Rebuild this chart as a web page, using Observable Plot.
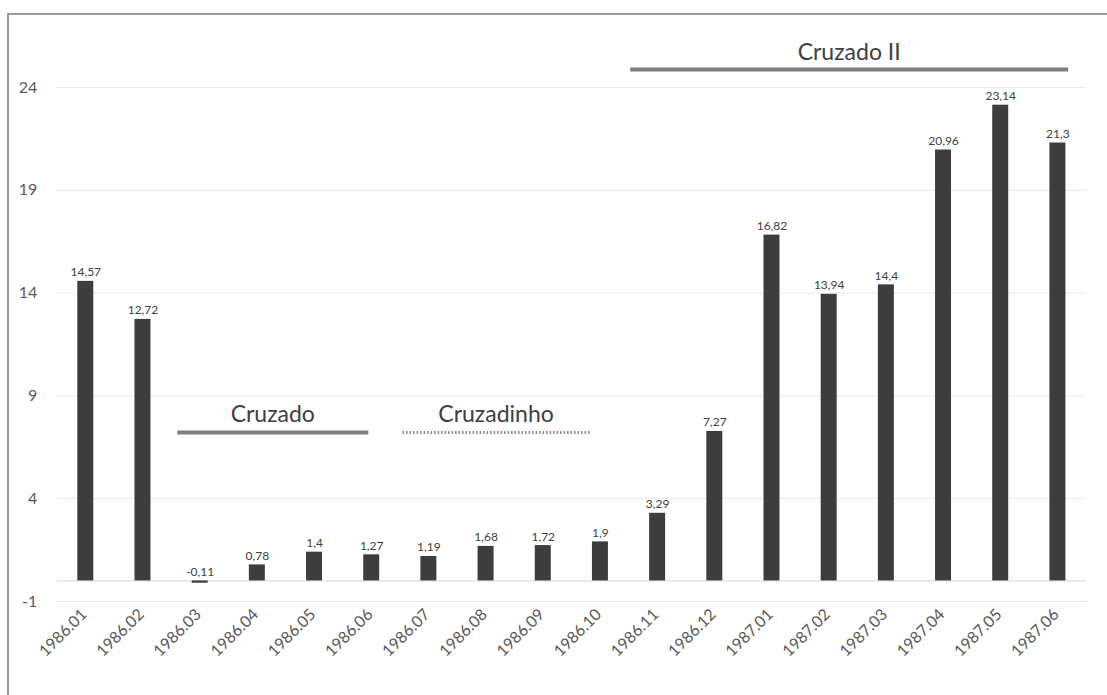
<!DOCTYPE html>
<html><head><meta charset="utf-8">
<script src="https://cdn.jsdelivr.net/npm/d3@7"></script>
<script src="https://cdn.jsdelivr.net/npm/@observablehq/plot@0.6"></script>
<style>
html,body{margin:0;padding:0;background:#fff;}
#wrap{position:relative;width:1107px;height:695px;overflow:hidden;}
#frame{position:absolute;left:7px;top:13px;width:1200px;height:800px;border-left:2px solid #9a9a9a;border-top:2px solid #9a9a9a;}
#chart{position:absolute;left:0;top:0;}
</style></head><body>
<div id="wrap"><div id="frame"></div><div id="chart"></div></div>
<script>
const months = ["1986.01","1986.02","1986.03","1986.04","1986.05","1986.06","1986.07","1986.08","1986.09","1986.10","1986.11","1986.12","1987.01","1987.02","1987.03","1987.04","1987.05","1987.06"];
const values = [14.57, 12.72, -0.11, 0.78, 1.4, 1.27, 1.19, 1.68, 1.72, 1.9, 3.29, 7.27, 16.82, 13.94, 14.4, 20.96, 23.14, 21.3];
const yTicks = [-1, 4, 9, 14, 19, 24];
// plan periods, positioned in month-index units
const periodNames = ["Cruzado", "Cruzadinho", "Cruzado II"];
const periodFrom = [1.6, 5.54, 9.52];
const periodTo = [4.94, 8.81, 17.18];
const periodLevel = [7.22, 7.22, 24.87];

const data = months.map((m, i) => ({i, month: m, value: values[i]}));
const periods = periodNames.map((name, k) => ({name, from: periodFrom[k], to: periodTo[k], level: periodLevel[k]}));
const fmt = v => String(v).replace(".", ",");

const chart = Plot.plot({
  width: 1107,
  height: 695,
  marginLeft: 56.7,
  marginRight: 21,
  marginTop: 87,
  marginBottom: 94,
  style: {fontFamily: "Lato, sans-serif", background: "transparent"},
  x: {domain: [-0.5, 17.5], axis: null},
  y: {domain: [-1, 24]},
  marks: [
    Plot.ruleY(yTicks, {stroke: "#e8e8e8", strokeWidth: 1}),
    Plot.ruleY([0], {stroke: "#d4d4d4", strokeWidth: 1}),
    Plot.rectY(data, {x1: d => d.i - 0.5, x2: d => d.i + 0.5, y: "value", fill: "#3d3d3d", insetLeft: 20.6, insetRight: 20.6}),
    Plot.text(data, {x: "i", y: d => Math.max(0, d.value), text: d => fmt(d.value), lineAnchor: "bottom", dy: -5, fontSize: 12, fill: "#404040"}),
    Plot.text(data, {x: "i", frameAnchor: "bottom", text: "month", rotate: -45, textAnchor: "end", dx: 2, dy: 14, fontSize: 16, fill: "#595959"}),
    Plot.link(periods.filter(p => p.name !== "Cruzadinho"), {x1: "from", x2: "to", y1: "level", y2: "level", stroke: "#7f7f7f", strokeWidth: 4}),
    Plot.link(periods.filter(p => p.name === "Cruzadinho"), {x1: "from", x2: "to", y1: "level", y2: "level", stroke: "#8a8a8a", strokeWidth: 3, strokeDasharray: "1.5,2"}),
    Plot.text(periods, {x: d => (d.from + d.to) / 2, y: "level", text: "name", lineAnchor: "bottom", dy: -10, fontSize: 23, fill: "#404040"}),
    Plot.axisY(yTicks, {tickSize: 0, tickPadding: 20, fontSize: 16, fill: "#595959", tickFormat: d => String(d), label: null})
  ]
});
document.getElementById("chart").appendChild(chart);
</script>
</body></html>
